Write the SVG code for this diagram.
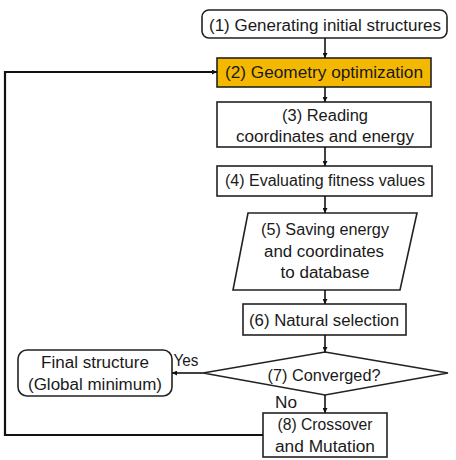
<svg xmlns="http://www.w3.org/2000/svg" width="456" height="460" viewBox="0 0 456 460">
<defs>
<marker id="ah" viewBox="0 0 10 10" refX="10" refY="5" markerWidth="5" markerHeight="5" orient="auto" markerUnits="userSpaceOnUse">
<path d="M0,0 L10,5 L0,10 z" fill="#111"/>
</marker>
<style>
.box{fill:#fff;stroke:#222;stroke-width:1.6}
.hl{fill:#F5B800;stroke:#222;stroke-width:1.6}
text{font-family:"Liberation Sans",Arial,sans-serif;font-size:16px;fill:#1a1a1a;text-anchor:middle}
.c{fill:none;stroke:#111;stroke-width:1.6}
.loop{fill:none;stroke:#111;stroke-width:2.2}
</style>
</defs>
<rect width="456" height="460" fill="#fff"/>
<g id="n1"><rect class="box" x="202" y="10" width="245" height="28" rx="7"/><text x="325" y="31" textLength="232" lengthAdjust="spacingAndGlyphs">(1) Generating initial structures</text></g>
<g id="n2"><rect class="hl" x="217" y="58" width="214" height="29"/><text x="324" y="78" textLength="198" lengthAdjust="spacingAndGlyphs">(2) Geometry optimization</text></g>
<g id="n3"><rect class="box" x="217" y="102" width="214" height="45"/><text x="325" y="121" textLength="86" lengthAdjust="spacingAndGlyphs">(3) Reading</text><text x="325" y="142" textLength="178" lengthAdjust="spacingAndGlyphs">coordinates and energy</text></g>
<g id="n4"><rect class="box" x="217" y="166" width="215" height="30"/><text x="325" y="186" textLength="200" lengthAdjust="spacingAndGlyphs">(4) Evaluating fitness values</text></g>
<g id="n5"><polygon class="box" points="248,213 417,213 400,290 233,290"/><text x="325" y="235" textLength="128" lengthAdjust="spacingAndGlyphs">(5) Saving energy</text><text x="324" y="257" textLength="120" lengthAdjust="spacingAndGlyphs">and coordinates</text><text x="325" y="278" textLength="89" lengthAdjust="spacingAndGlyphs">to database</text></g>
<g id="n6"><rect class="box" x="243" y="304" width="163" height="31"/><text x="324" y="326" textLength="150" lengthAdjust="spacingAndGlyphs">(6) Natural selection</text></g>
<g id="n7"><polygon class="box" points="325,352 448,373 325,395 203,373"/><text x="324" y="381" textLength="113" lengthAdjust="spacingAndGlyphs">(7) Converged?</text></g>
<g id="nf"><rect class="box" x="18" y="350" width="154" height="46" rx="9"/><text x="95" y="368" textLength="108" lengthAdjust="spacingAndGlyphs">Final structure</text><text x="95" y="390" textLength="134" lengthAdjust="spacingAndGlyphs">(Global minimum)</text></g>
<g id="n8"><rect class="box" x="263" y="413" width="124" height="44"/><text x="325" y="430" textLength="95" lengthAdjust="spacingAndGlyphs">(8) Crossover</text><text x="325" y="452" textLength="100" lengthAdjust="spacingAndGlyphs">and Mutation</text></g>
<g id="connectors">
<line class="c" x1="325" y1="38" x2="325" y2="58" marker-end="url(#ah)"/>
<line class="c" x1="325" y1="87" x2="325" y2="102" marker-end="url(#ah)"/>
<line class="c" x1="325" y1="147" x2="325" y2="166" marker-end="url(#ah)"/>
<line class="c" x1="325" y1="196" x2="325" y2="213" marker-end="url(#ah)"/>
<line class="c" x1="325" y1="290" x2="325" y2="304" marker-end="url(#ah)"/>
<line class="c" x1="325" y1="335" x2="325" y2="352" marker-end="url(#ah)"/>
<line class="c" x1="325" y1="395" x2="325" y2="413" marker-end="url(#ah)"/>
<line class="c" x1="203" y1="373" x2="172" y2="373" marker-end="url(#ah)"/>
<polyline class="loop" points="263,435 5,435 5,72 217,72" marker-end="url(#ah)"/>
<text x="186" y="366" textLength="25" lengthAdjust="spacingAndGlyphs">Yes</text>
<text x="286" y="408" textLength="22" lengthAdjust="spacingAndGlyphs">No</text>
</g>
</svg>
